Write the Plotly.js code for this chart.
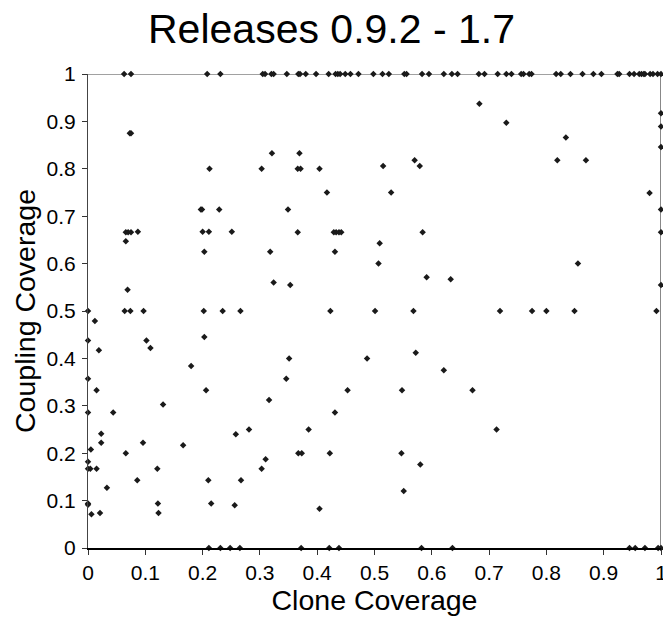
<!DOCTYPE html>
<html>
<head>
<meta charset="utf-8">
<script src="https://cdn.plot.ly/plotly-3.0.1.min.js"></script>
<style>
  html, body { margin: 0; padding: 0; background: #fff; }
  #chart { width: 663px; height: 619px; }
</style>
</head>
<body>
<div id="chart"></div>
<script>
// Clone coverage vs coupling coverage per file, releases 0.9.2 - 1.7

// Files fully coupled (coupling coverage = 1): clone coverage values
const fullCouplingClone = [0.063, 0.075, 0.208, 0.231, 0.305, 0.309, 0.320, 0.324, 0.347, 0.367,
  0.370, 0.380, 0.398, 0.420, 0.432, 0.436, 0.440, 0.449, 0.458, 0.472, 0.498, 0.514, 0.525,
  0.552, 0.556, 0.583, 0.595, 0.621, 0.635, 0.645, 0.682, 0.692, 0.715, 0.730, 0.739, 0.756,
  0.760, 0.770, 0.774, 0.817, 0.825, 0.842, 0.863, 0.882, 0.896, 0.924, 0.927, 0.945, 0.953,
  0.962, 0.966, 0.970, 0.972, 0.981, 0.986, 0.994, 1.0];

// Files with no coupling (coupling coverage = 0): clone coverage values
const noCouplingClone = [0.211, 0.231, 0.248, 0.265, 0.372, 0.421, 0.438, 0.582, 0.636,
  0.945, 0.955, 0.972, 0.995, 1.0];

// Files with no clones (clone coverage = 0): coupling coverage values
const noCloneCoupling = [0.500, 0.438, 0.357, 0.286, 0.182, 0.167, 0.094, 0.091];

// Files fully cloned (clone coverage = 1): coupling coverage values
const fullCloneCoupling = [0.917, 0.889, 0.846, 0.714, 0.666, 0.555];

// Remaining files: clone coverage / coupling coverage pairs
const innerClone = [0.073, 0.075, 0.321, 0.369, 0.212, 0.303, 0.366, 0.371, 0.404,
  0.515, 0.570, 0.579, 0.417, 0.529, 0.197, 0.199, 0.229, 0.349,
  0.683, 0.730, 0.834, 0.819, 0.869, 0.980,
  0.066, 0.070, 0.075, 0.087, 0.066,
  0.200, 0.211, 0.251, 0.366, 0.429, 0.433, 0.438, 0.442, 0.584,
  0.203, 0.318, 0.431, 0.509, 0.507, 0.855,
  0.324, 0.353, 0.591, 0.633, 0.069,
  0.064, 0.074, 0.097, 0.202, 0.235, 0.266, 0.423, 0.501, 0.568, 0.719, 0.775, 0.800, 0.849, 0.992,
  0.012, 0.102, 0.203, 0.109, 0.019,
  0.351, 0.487, 0.572, 0.180, 0.621, 0.346,
  0.015, 0.206, 0.453, 0.548, 0.671,
  0.044, 0.431, 0.131, 0.316,
  0.023, 0.258, 0.281, 0.385, 0.713,
  0.023, 0.096, 0.166, 0.005,
  0.066, 0.367, 0.373, 0.422, 0.547,
  0.310, 0.580,
  0.004, 0.015, 0.121, 0.303,
  0.086, 0.210, 0.267, 0.033, 0.551,
  0.122, 0.215, 0.256, 0.404,
  0.006, 0.021, 0.123];
const innerCoupling = [0.875, 0.875, 0.833, 0.833, 0.800, 0.800, 0.800, 0.800, 0.800,
  0.806, 0.818, 0.806, 0.750, 0.750, 0.714, 0.714, 0.714, 0.714,
  0.937, 0.897, 0.866, 0.818, 0.818, 0.749,
  0.666, 0.666, 0.666, 0.667, 0.647,
  0.667, 0.667, 0.667, 0.666, 0.666, 0.666, 0.666, 0.666, 0.666,
  0.625, 0.625, 0.625, 0.643, 0.600, 0.600,
  0.560, 0.555, 0.571, 0.567, 0.545,
  0.500, 0.500, 0.500, 0.500, 0.500, 0.500, 0.500, 0.500, 0.500, 0.500, 0.500, 0.500, 0.500, 0.500,
  0.479, 0.438, 0.445, 0.422, 0.417,
  0.400, 0.400, 0.412, 0.384, 0.375, 0.357,
  0.333, 0.333, 0.333, 0.333, 0.333,
  0.286, 0.286, 0.303, 0.312,
  0.241, 0.240, 0.250, 0.250, 0.250,
  0.222, 0.222, 0.217, 0.208,
  0.200, 0.200, 0.200, 0.200, 0.200,
  0.187, 0.176,
  0.167, 0.167, 0.167, 0.167,
  0.143, 0.143, 0.143, 0.127, 0.120,
  0.094, 0.094, 0.090, 0.083,
  0.071, 0.074, 0.074];

const xTicks = [0, 0.1, 0.2, 0.3, 0.4, 0.5, 0.6, 0.7, 0.8, 0.9, 1];
const xTickText = ['0', '0.1', '0.2', '0.3', '0.4', '0.5', '0.6', '0.7', '0.8', '0.9', '1'];
const yTicks = [0, 0.1, 0.2, 0.3, 0.4, 0.5, 0.6, 0.7, 0.8, 0.9, 1];
const yTickText = ['0', '0.1', '0.2', '0.3', '0.4', '0.5', '0.6', '0.7', '0.8', '0.9', '1'];

// Combine all groups into one point list
const xs = [].concat(
  fullCouplingClone,
  noCouplingClone,
  noCloneCoupling.map(() => 0),
  fullCloneCoupling.map(() => 1),
  innerClone
);
const ys = [].concat(
  fullCouplingClone.map(() => 1),
  noCouplingClone.map(() => 0),
  noCloneCoupling,
  fullCloneCoupling,
  innerCoupling
);

const FONT = '"Liberation Sans", Arial, sans-serif';

const trace = {
  type: 'scatter',
  mode: 'markers',
  x: xs,
  y: ys,
  cliponaxis: false,
  marker: { symbol: 'diamond', size: 5, color: '#1a1a1a' },
  hoverinfo: 'x+y'
};

const layout = {
  width: 663,
  height: 619,
  margin: { l: 88, r: 2, t: 74, b: 71, pad: 0 },
  paper_bgcolor: '#ffffff',
  plot_bgcolor: '#ffffff',
  showlegend: false,
  font: { family: FONT, color: '#000' },
  title: {
    text: 'Releases 0.9.2 - 1.7',
    font: { family: FONT, size: 41, color: '#000' },
    x: 0.5, xref: 'container', xanchor: 'center',
    y: 0.954, yref: 'container', yanchor: 'middle'
  },
  xaxis: {
    range: [0, 1],
    tickvals: xTicks,
    ticktext: xTickText,
    ticks: 'outside', ticklen: 5, tickwidth: 1, tickcolor: '#333',
    ticklabeloverflow: 'allow',
    showline: true, linecolor: '#000', linewidth: 2,
    showgrid: false, zeroline: false,
    tickfont: { family: FONT, size: 21, color: '#000' },
    title: { text: 'Clone Coverage', font: { family: FONT, size: 28.5, color: '#000' }, standoff: 7 },
    automargin: false, fixedrange: true
  },
  yaxis: {
    range: [0, 1],
    tickvals: yTicks,
    ticktext: yTickText,
    ticks: 'outside', ticklen: 5, tickwidth: 1, tickcolor: '#333',
    ticklabelstandoff: 2,
    showline: true, linecolor: '#444', linewidth: 1,
    showgrid: false, zeroline: false,
    tickfont: { family: FONT, size: 21, color: '#000' },
    title: { text: 'Coupling Coverage', font: { family: FONT, size: 28.5, color: '#000' }, standoff: 2 },
    automargin: false, fixedrange: true
  },
  shapes: [
    // top border of the plot area
    { type: 'line', xref: 'paper', yref: 'y', x0: 0, x1: 1, y0: 1, y1: 1,
      line: { color: '#444', width: 1 }, layer: 'below' },
    // right border of the plot area
    { type: 'line', xref: 'x', yref: 'paper', x0: 1, x1: 1, y0: 0, y1: 1,
      line: { color: '#888', width: 2 }, layer: 'below' }
  ]
};

Plotly.newPlot('chart', [trace], layout, { staticPlot: true, displayModeBar: false });
</script>
</body>
</html>
